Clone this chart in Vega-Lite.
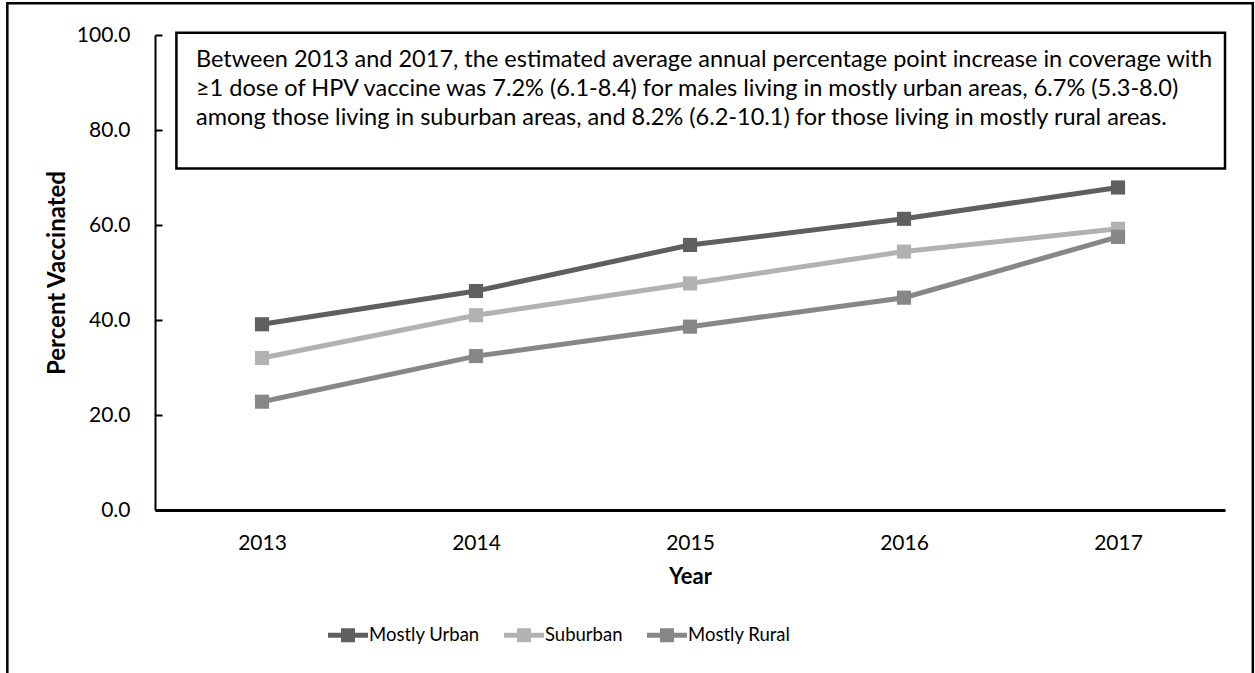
{
  "$schema": "https://vega.github.io/schema/vega-lite/v6.json",
  "width": 1070,
  "height": 475,
  "autosize": {"type": "none"},
  "padding": {"left": 155, "top": 35, "right": 30, "bottom": 163},
  "background": "white",
  "config": {
    "view": {"stroke": null},
    "font": "Lato",
    "axis": {"labelFont": "Lato", "titleFont": "Lato", "labelColor": "black", "titleColor": "black", "grid": false}
  },
  "datasets": {
    "coverage": [
      {"Year": "2013", "Area": "Mostly Urban", "Percent": 39.1},
      {"Year": "2014", "Area": "Mostly Urban", "Percent": 46.1},
      {"Year": "2015", "Area": "Mostly Urban", "Percent": 55.8},
      {"Year": "2016", "Area": "Mostly Urban", "Percent": 61.3},
      {"Year": "2017", "Area": "Mostly Urban", "Percent": 67.9},
      {"Year": "2013", "Area": "Suburban", "Percent": 32.0},
      {"Year": "2014", "Area": "Suburban", "Percent": 41.0},
      {"Year": "2015", "Area": "Suburban", "Percent": 47.7},
      {"Year": "2016", "Area": "Suburban", "Percent": 54.4},
      {"Year": "2017", "Area": "Suburban", "Percent": 59.2},
      {"Year": "2013", "Area": "Mostly Rural", "Percent": 22.8},
      {"Year": "2014", "Area": "Mostly Rural", "Percent": 32.4},
      {"Year": "2015", "Area": "Mostly Rural", "Percent": 38.6},
      {"Year": "2016", "Area": "Mostly Rural", "Percent": 44.7},
      {"Year": "2017", "Area": "Mostly Rural", "Percent": 57.5}
    ],
    "note": [
      {"text": "Between 2013 and 2017, the estimated average annual percentage point increase in coverage with\n≥1 dose of  HPV vaccine was 7.2% (6.1-8.4) for males living in mostly urban areas, 6.7% (5.3-8.0)\namong those living in suburban areas, and 8.2% (6.2-10.1) for those living in mostly rural areas."}
    ]
  },
  "layer": [
    {
      "data": {"values": [{}]},
      "mark": {"type": "rect", "fill": null, "fillOpacity": 0, "stroke": "black", "strokeWidth": 2.5, "clip": false},
      "encoding": {
        "x": {"datum": -13.8, "type": "quantitative", "scale": {"domain": [0, 100], "nice": false, "zero": false}, "axis": null},
        "x2": {"datum": 102.6},
        "y": {"datum": 106.7, "type": "quantitative", "scale": {"domain": [0, 100], "nice": false, "zero": false}, "axis": null},
        "y2": {"datum": -44}
      }
    },
    {
      "data": {"values": [{}]},
      "mark": {"type": "rect", "fill": "white", "stroke": "black", "strokeWidth": 2.5, "clip": false},
      "encoding": {
        "x": {"datum": 2.0, "type": "quantitative", "scale": {"domain": [0, 100], "nice": false, "zero": false}, "axis": null},
        "x2": {"datum": 100},
        "y": {"datum": 100.5, "type": "quantitative", "scale": {"domain": [0, 100], "nice": false, "zero": false}, "axis": null},
        "y2": {"datum": 71.9}
      }
    },
    {
      "data": {"name": "note"},
      "mark": {"type": "text", "align": "left", "baseline": "top", "font": "Lato", "fontSize": 23.5, "lineHeight": 29, "lineBreak": "\n", "color": "black", "clip": false},
      "encoding": {
        "x": {"datum": 3.83, "type": "quantitative", "scale": {"domain": [0, 100], "nice": false, "zero": false}, "axis": null},
        "y": {"datum": 97.2, "type": "quantitative", "scale": {"domain": [0, 100], "nice": false, "zero": false}, "axis": null},
        "text": {"field": "text"}
      }
    },
    {
      "data": {"name": "coverage"},
      "mark": {"type": "line", "strokeWidth": 5, "point": {"shape": "square", "size": 200, "filled": true, "opacity": 1}},
      "encoding": {
        "x": {
          "field": "Year", "type": "ordinal",
          "scale": {"type": "point", "padding": 0.5},
          "axis": {"title": "Year", "labelAngle": 0, "ticks": false, "domainColor": "black", "domainWidth": 3, "labelFontSize": 21, "labelPadding": 22, "titleFontSize": 22, "titleFontWeight": "bold", "titlePadding": 13, "zindex": 1}
        },
        "y": {
          "field": "Percent", "type": "quantitative",
          "scale": {"domain": [0, 100], "nice": false},
          "axis": {"title": "Percent Vaccinated", "values": [0, 20, 40, 60, 80, 100], "format": ".1f", "tickSize": -7, "tickColor": "black", "tickWidth": 2, "domainColor": "black", "domainWidth": 2, "labelFontSize": 21, "labelPadding": 32, "titleFontSize": 24, "titleFontWeight": "bold", "titlePadding": 7, "zindex": 1}
        },
        "color": {
          "field": "Area", "type": "nominal",
          "scale": {"domain": ["Mostly Urban", "Suburban", "Mostly Rural"], "range": ["#5f5f5f", "#b2b2b2", "#878787"]},
          "legend": {
            "title": null, "orient": "none", "direction": "horizontal", "legendX": 173, "legendY": 580,
            "symbolType": "M-1,-0.125H1V0.125H-1Z M-0.35,-0.35H0.35V0.35H-0.35Z",
            "symbolSize": 1600, "symbolStrokeWidth": 0, "symbolOpacity": 1,
            "labelFontSize": 18.5, "labelFont": "Lato", "labelColor": "black", "labelOffset": 1, "columnPadding": 24,
            "encode": {"symbols": {"update": {"fill": {"scale": "color", "field": "value"}, "strokeWidth": {"value": 0}}}}
          }
        }
      }
    }
  ],
  "resolve": {"scale": {"x": "independent", "y": "independent"}}
}
